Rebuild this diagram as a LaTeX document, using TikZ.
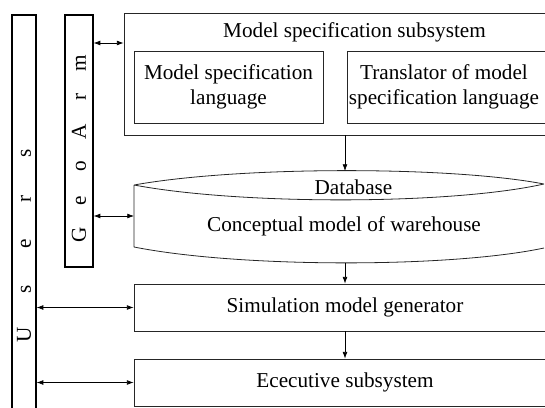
\documentclass[tikz,border=0pt]{standalone}
\usepackage{fontspec}
\setmainfont{Liberation Serif}
\usetikzlibrary{arrows.meta}
\begin{document}
\begin{tikzpicture}[x=0.75pt,y=-0.75pt,
  txt/.style={font=\fontsize{15.9}{18.4}\selectfont},
  box/.style={draw=black!85, line width=0.6pt, rectangle, inner sep=0pt, align=center, txt},
  bar/.style={draw=black, line width=0.9pt, rectangle, inner sep=0pt},
  lbl/.style={inner sep=0pt, align=center, txt},
  arr/.style={-{Latex[length=5pt,width=3.6pt]}, line width=0.5pt},
  barr/.style={{Latex[length=5pt,width=3.6pt]}-{Latex[length=5pt,width=3.6pt]}, line width=0.5pt}]
\clip (0,0) rectangle (545,407);
% side bars
\node[bar, minimum width=18pt, minimum height=303.75pt] (users) at (24,217.5) {};
\node[lbl, rotate=90] (userstext) at (24,244) {\makebox[34.1pt]{U}\makebox[34.1pt]{s}\makebox[34.1pt]{e}\makebox[34.1pt]{r}\makebox[34.1pt]{s}};
\node[bar, minimum width=21pt, minimum height=189pt] (geo) at (79,141) {};
\node[lbl, rotate=90] (geotext) at (79,149) {\makebox[25.8pt]{G}\makebox[25.8pt]{e}\makebox[25.8pt]{o}\makebox[25.8pt]{A}\makebox[25.8pt]{r}\makebox[25.8pt]{m}};
% model specification subsystem
\node[box, minimum width=345.75pt, minimum height=91.5pt] (spec) at (354.5,74) {};
\node[lbl, anchor=base] (spectitle) at (354.5,37.5) {Model specification subsystem};
\node[box, minimum width=141.75pt, minimum height=54pt] (lang) at (228.5,87) {Model specification\\language};
\node[box, minimum width=159.75pt, minimum height=54pt] (trans) at (453.5,87) {};
\node[lbl] (transtext) at (444,87) {Translator of model\\specification language};
% database
\coordinate (dbtop) at (345,171);
\coordinate (dbbot) at (345,263);
\coordinate (dbl) at (134,216);
\draw[draw=black!85, line width=0.6pt]
  (134,185) .. controls (240,166) and (450,166) .. (544,184)
  (134,185) .. controls (240,205) and (450,205) .. (544,184)
  (134,185) -- (134,247)
  (134,247) .. controls (240,268) and (450,268) .. (544,248)
  (549,184) -- (549,248);
\node[lbl, anchor=base] (dbtitle) at (353.5,194) {Database};
\node[lbl, anchor=base] (dbtext) at (344,231) {Conceptual model of warehouse};
% lower boxes
\node[box, minimum width=316.5pt, minimum height=35.25pt] (sim) at (345,307.5) {Simulation model generator};
\node[box, minimum width=316.5pt, minimum height=35.25pt] (exec) at (345,382.5) {Ececutive subsystem};
% connectors
\coordinate (ga) at (0,43);
\draw[arr] (spec.south -| dbtop) -- (dbtop);
\draw[arr] (dbbot) -- (sim.north);
\draw[arr] (sim.south) -- (exec.north);
\draw[barr] (geo.east |- ga) -- (spec.west |- ga);
\draw[barr] (geo.east |- dbl) -- (dbl);
\draw[barr] (users.east |- sim.west) -- (sim.west);
\draw[barr] (users.east |- exec.west) -- (exec.west);
\end{tikzpicture}
\end{document}
